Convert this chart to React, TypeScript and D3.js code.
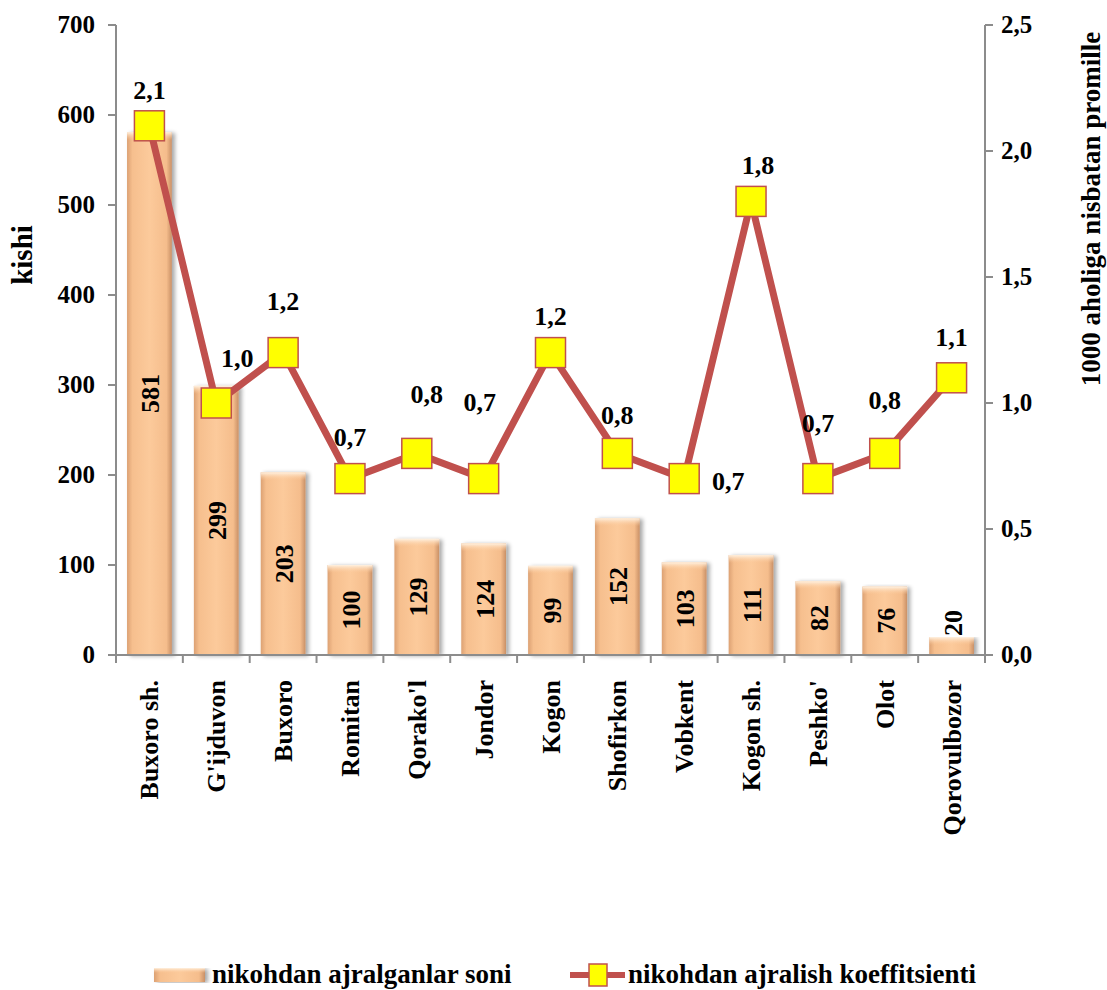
import * as d3 from 'd3'

const categories = [
  'Buxoro sh.', "G'ijduvon", 'Buxoro', 'Romitan', "Qorako'l", 'Jondor', 'Kogon',
  'Shofirkon', 'Vobkent', 'Kogon sh.', "Peshko'", 'Olot', 'Qorovulbozor',
]
const divorces = [581, 299, 203, 100, 129, 124, 99, 152, 103, 111, 82, 76, 20]
const coefficient = [2.1, 1.0, 1.2, 0.7, 0.8, 0.7, 1.2, 0.8, 0.7, 1.8, 0.7, 0.8, 1.1]
const leftTicks = [0, 100, 200, 300, 400, 500, 600, 700]
const rightTicks = [0, 0.5, 1.0, 1.5, 2.0, 2.5]

// where each line value label sits relative to its marker (dx, baseline dy)
const labelOffset: [number, number][] = [
  [0, -27], [21, -36], [0, -43], [0, -33], [10, -50], [-4, -68], [0, -28],
  [0, -29], [44, 11], [7, -27], [0, -47], [0, -44], [0, -32],
]

const W = 1107
const H = 990
const margin = { top: 25, right: 122, bottom: 335, left: 116 }
const font = '"Liberation Serif", "Times New Roman", serif'
const fmt = (v: number) => d3.format('.1f')(v).replace('.', ',')

export default function App() {
  const x = d3
    .scaleBand<string>()
    .domain(categories)
    .range([margin.left, W - margin.right])
  const y = d3.scaleLinear().domain([0, 700]).range([H - margin.bottom, margin.top])
  const y2 = d3.scaleLinear().domain([0, 2.5]).range([H - margin.bottom, margin.top])
  const barW = x.bandwidth() * 0.67
  const cx = (c: string) => (x(c) ?? 0) + x.bandwidth() / 2
  const base = y(0)

  const line = d3
    .line<number>()
    .x((_, i) => cx(categories[i]))
    .y((d) => y2(d))

  const axisColor = '#8c8c8c'
  const fs = 26

  return (
    <svg
      width={W}
      height={H}
      style={{ position: 'absolute', left: 0, top: 0, background: '#fff' }}
      fontFamily={font}
      fontWeight="bold"
    >
      <defs>
        <linearGradient id="barGrad" x1="0" x2="1" y1="0" y2="0">
          <stop offset="0%" stopColor="#dca173" />
          <stop offset="12%" stopColor="#f6bf8e" />
          <stop offset="50%" stopColor="#fcca9b" />
          <stop offset="88%" stopColor="#f5bd8c" />
          <stop offset="100%" stopColor="#c99066" />
        </linearGradient>
        <linearGradient id="capGrad" x1="0" x2="0" y1="0" y2="1">
          <stop offset="0%" stopColor="#fff2e2" />
          <stop offset="100%" stopColor="#fcca9b" stopOpacity={0} />
        </linearGradient>
        <filter id="shadow" x="-20%" y="-5%" width="150%" height="110%">
          <feGaussianBlur in="SourceAlpha" stdDeviation="2" />
          <feOffset dx="3" dy="1" />
          <feComponentTransfer>
            <feFuncA type="linear" slope="0.35" />
          </feComponentTransfer>
          <feMerge>
            <feMergeNode />
            <feMergeNode in="SourceGraphic" />
          </feMerge>
        </filter>
      </defs>

      {/* bars */}
      <g>
        {categories.map((c, i) => {
          const top = y(divorces[i])
          const h = base - top
          const bx = cx(c) - barW / 2
          return (
            <g key={c} filter="url(#shadow)">
              <rect x={bx} y={top} width={barW} height={h} fill="url(#barGrad)" />
              <rect x={bx} y={top} width={barW} height={Math.min(8, h)} fill="url(#capGrad)" />
            </g>
          )
        })}
      </g>

      {/* bar value labels */}
      <g fontSize={fs} fill="#000">
        {categories.map((c, i) => {
          const top = y(divorces[i])
          const h = base - top
          const inside = h > 45
          return (
            <text
              key={c}
              transform={`translate(${cx(c) + 10},${inside ? top + h / 2 : top - 1}) rotate(-90)`}
              textAnchor={inside ? 'middle' : 'start'}
            >
              {divorces[i]}
            </text>
          )
        })}
      </g>

      {/* axes */}
      <g stroke={axisColor} strokeWidth={2}>
        <line x1={margin.left} x2={margin.left} y1={margin.top} y2={base} />
        {leftTicks.map((t) => (
          <line key={t} x1={margin.left - 8} x2={margin.left} y1={y(t)} y2={y(t)} />
        ))}
        <line x1={margin.left} x2={W - margin.right} y1={base} y2={base} />
        {[...categories.map((c) => x(c) ?? 0), W - margin.right].map((v, i) => (
          <line key={i} x1={v} x2={v} y1={base} y2={base + 8} />
        ))}
        <line x1={W - margin.right} x2={W - margin.right} y1={margin.top} y2={base} />
        {rightTicks.map((t) => (
          <line
            key={t}
            x1={W - margin.right}
            x2={W - margin.right + 8}
            y1={y2(t)}
            y2={y2(t)}
          />
        ))}
      </g>
      <g fontSize={25} fill="#000">
        {leftTicks.map((t) => (
          <text key={t} x={margin.left - 21} y={y(t) + 8} textAnchor="end">
            {t}
          </text>
        ))}
        {rightTicks.map((t) => (
          <text key={t} x={W - margin.right + 16} y={y2(t) + 8} textAnchor="start">
            {fmt(t)}
          </text>
        ))}
      </g>
      <g fontSize={fs} fill="#000">
        {categories.map((c) => (
          <text
            key={c}
            transform={`translate(${cx(c) + 9},${base + 25}) rotate(-90)`}
            textAnchor="end"
          >
            {c}
          </text>
        ))}
      </g>

      {/* axis titles */}
      <text transform="translate(32,255) rotate(-90)" textAnchor="middle" fontSize={29}>
        kishi
      </text>
      <text transform="translate(1100,209) rotate(-90)" textAnchor="middle" fontSize={27}>
        1000 aholiga nisbatan promille
      </text>

      {/* line series */}
      <path
        d={line(coefficient) ?? ''}
        fill="none"
        stroke="#c0504d"
        strokeWidth={7}
        strokeLinejoin="round"
      />
      {coefficient.map((v, i) => (
        <rect
          key={i}
          x={cx(categories[i]) - 15}
          y={y2(v) - 15}
          width={30}
          height={30}
          fill="#ffff00"
          stroke="#c0504d"
          strokeWidth={1.5}
        />
      ))}
      <g fontSize={fs} fill="#000" textAnchor="middle">
        {coefficient.map((v, i) => (
          <text
            key={i}
            x={cx(categories[i]) + labelOffset[i][0]}
            y={y2(v) + labelOffset[i][1]}
          >
            {fmt(v)}
          </text>
        ))}
      </g>

      {/* legend */}
      <g fontSize={27} fill="#000">
        <rect x={154} y={968} width={51} height={14} fill="url(#barGrad)" filter="url(#shadow)" />
        <rect x={154} y={968} width={51} height={5} fill="url(#capGrad)" />
        <text x={212} y={983}>nikohdan ajralganlar soni</text>
        <line x1={570} x2={625} y1={975} y2={975} stroke="#c0504d" strokeWidth={6} />
        <rect x={589} y={964} width={18} height={22} fill="#ffff00" stroke="#c0504d" strokeWidth={1.5} />
        <text x={628} y={983}>nikohdan ajralish koeffitsienti</text>
      </g>
    </svg>
  )
}
